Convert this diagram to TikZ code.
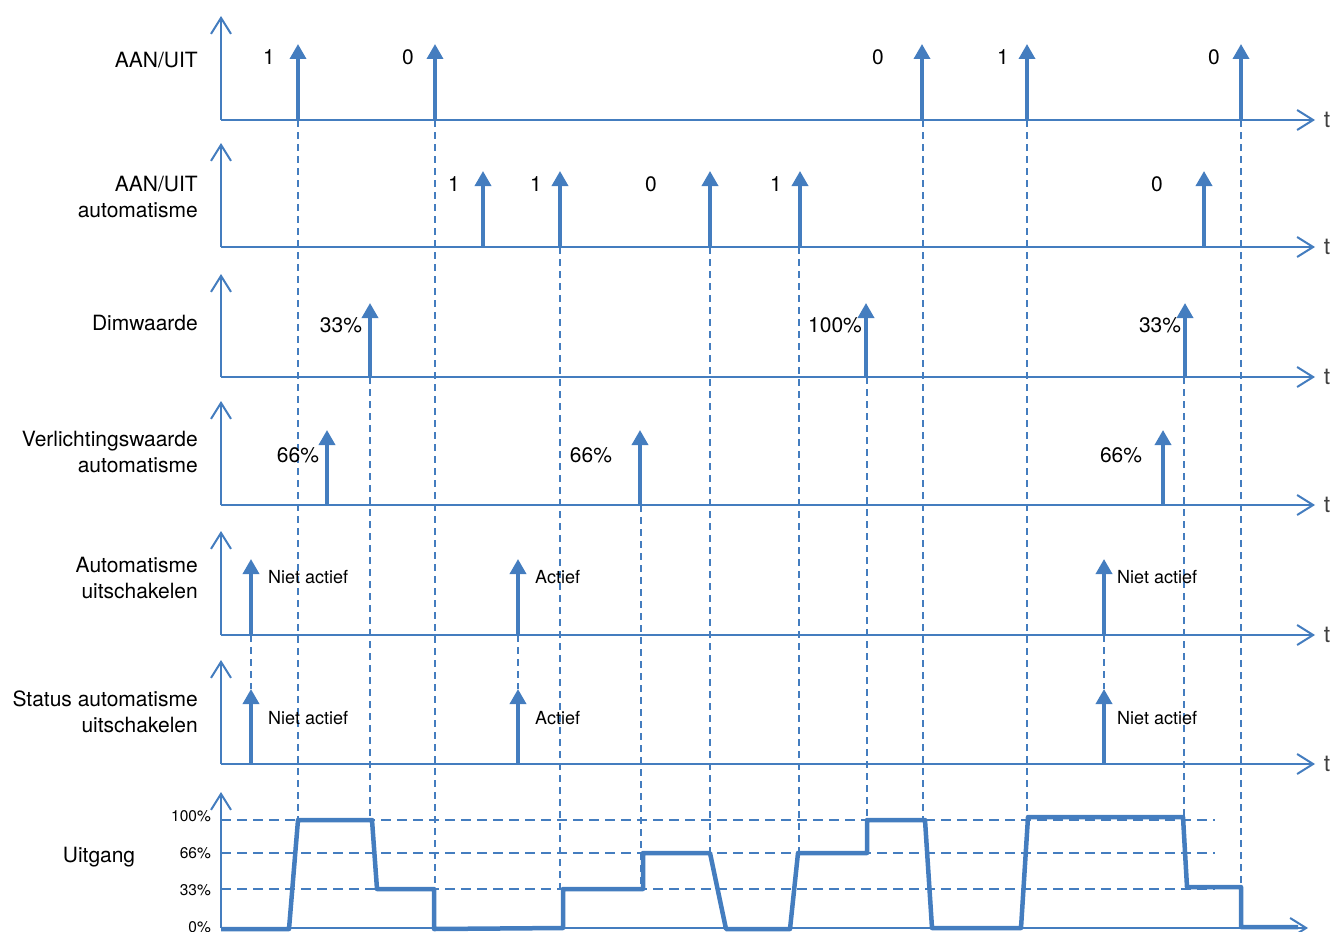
\documentclass[tikz,border=0pt]{standalone}
\usepackage{fontspec}
\setmainfont{TeX Gyre Heros}
\usetikzlibrary{arrows.meta}
\definecolor{bl}{RGB}{68,125,191}
\begin{document}
\begin{tikzpicture}[x=1pt,y=-1pt,
  axis/.style={draw=bl, line width=2pt, -{Straight Barb[length=16pt,width=20pt,line width=2pt]}},
  imp/.style={draw=bl, line width=3.5pt, -{Triangle[length=15pt,width=16pt]}},
  guide/.style={draw=bl, line width=1.6pt, dash pattern=on 7pt off 5pt},
  level/.style={draw=bl, line width=1.6pt, dash pattern=on 10pt off 6pt},
  outp/.style={draw=bl, line width=4.5pt, line join=round},
  rowlab/.style={anchor=east, align=right, font=\fontsize{21}{26}\selectfont, inner sep=0pt},
  val/.style={font=\fontsize{21}{25}\selectfont, inner sep=0pt},
  small/.style={font=\fontsize{18}{22}\selectfont, inner sep=0pt, anchor=west},
  pct/.style={font=\fontsize{15.5}{18}\selectfont, inner sep=0pt, anchor=east},
  tl/.style={font=\fontsize{23}{26}\selectfont, text=black!75, inner sep=0pt},
]
\useasboundingbox (0,0) rectangle (1332,931);

% guides (drawn first)
\foreach \x/\a/\b in {298/120/820, 435/120/889, 923/120/820, 1027/120/817, 1241/120/887,
  560/247/889, 710/247/853, 799/247/853,
  370/377/820, 867/377/820, 1184/377/817,
  641/505/889,
  251/635/689, 518/635/689, 1104/635/689}
  \draw[guide] (\x,\a) -- (\x,\b);

% level lines
\foreach \y in {820,853,889}
  \draw[level] (221,\y) -- (1215,\y);

% axes
\foreach \b/\t [count=\i] in {120/16, 247/143, 377/274, 505/401, 635/531, 764/660} {
  \coordinate (o\i) at (221,\b);
  \draw[axis] (o\i) -- (221,\t);
  \draw[axis] (o\i) -- (1315,\b);
  \node[tl] (t\i) at (1327,\b) {t};
}
\coordinate (o7) at (221,928);
\draw[axis] (o7) -- (221,792);
\draw[axis] (o7) -- (1308,928);

% row labels
\node[rowlab] (l1) at (198,60) {AAN/UIT};
\node[rowlab] (l2) at (198,197) {AAN/UIT\\automatisme};
\node[rowlab] (l3) at (198,323) {Dimwaarde};
\node[rowlab] (l4) at (198,452) {Verlichtingswaarde\\automatisme};
\node[rowlab] (l5) at (198,578) {Automatisme\\uitschakelen};
\node[rowlab] (l6) at (198,712) {Status automatisme\\uitschakelen};
\node[val] (l7) at (99,857) {Uitgang};

% row 1
\foreach \x in {298,435,922,1027,1241} \draw[imp] (\x,120) -- (\x,44);
\foreach \x/\v in {269/1, 408/0, 878/0, 1003/1, 1214/0} \node[val] at (\x,57) {\v};
% row 2
\foreach \x in {483,560,710,800,1204} \draw[imp] (\x,247) -- (\x,171);
\foreach \x/\v in {454/1, 536/1, 651/0, 776/1, 1157/0} \node[val] at (\x,184) {\v};
% row 3
\foreach \x in {370,866,1185} \draw[imp] (\x,377) -- (\x,303);
\foreach \x/\v in {341/33\%, 835/100\%, 1160/33\%} \node[val] at (\x,325) {\v};
% row 4
\foreach \x in {327,640,1163} \draw[imp] (\x,505) -- (\x,430);
\foreach \x in {298,591,1121} \node[val] at (\x,455) {66\%};
% row 5
\foreach \x in {251,518,1104} \draw[imp] (\x,635) -- (\x,559);
\node[small] at (268,577) {Niet actief};
\node[small] at (535,577) {Actief};
\node[small] at (1117,577) {Niet actief};
% row 6
\foreach \x in {251,518,1104} \draw[imp] (\x,764) -- (\x,689);
\node[small] at (268,718) {Niet actief};
\node[small] at (535,718) {Actief};
\node[small] at (1117,718) {Niet actief};

% output levels
\node[pct] at (211,816) {100\%};
\node[pct] at (211,853) {66\%};
\node[pct] at (211,890) {33\%};
\node[pct] at (211,927) {0\%};

% output waveform
\draw[outp] (221,929) -- (289,929) -- (298,820) -- (372,820) -- (377,889) -- (434,889)
  -- (434,929) -- (563,928) -- (563,889) -- (643,889) -- (643,853) -- (710,853)
  -- (726,929) -- (790,929) -- (798,853) -- (867,853) -- (867,820) -- (925,820)
  -- (932,928) -- (1021,928) -- (1028,817) -- (1183,817) -- (1187,887) -- (1241,887)
  -- (1241,927) -- (1298,927);
\end{tikzpicture}
\end{document}
